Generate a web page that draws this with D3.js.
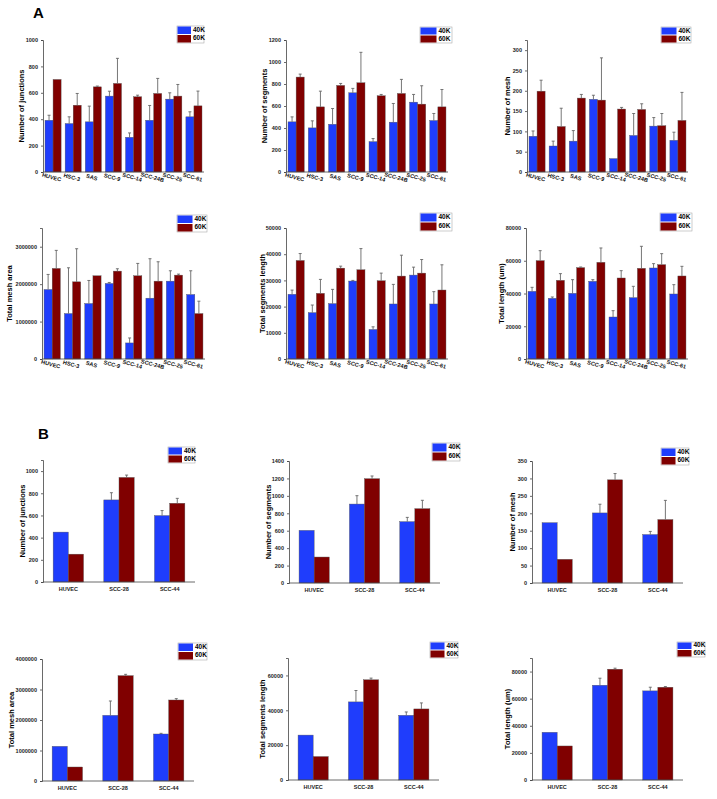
<!DOCTYPE html>
<html><head><meta charset="utf-8">
<script src="https://cdn.jsdelivr.net/npm/d3@7"></script>
<style>body{margin:0;background:#fff}svg{display:block}text{font-family:Arial,"Liberation Sans",sans-serif}</style>
</head><body><div id="c"></div>
<script>
const catsA = ["HUVEC","HSC-3","SAS","SCC-9","SCC-14","SCC-24B","SCC-25","SCC-61"];
const catsB = ["HUVEC","SCC-28","SCC-44"];
const seriesNames = ["40K","60K"];

const junctionsA40 = [392,367,380,575,263,392,552,418];
const junctionsA40Err = [38,51,119,37,33,112,48,38];
const junctionsA60 = [701,506,645,671,570,595,575,501];
const junctionsA60Err = [0,89,6,190,12,114,88,112];

const segmentsA40 = [456,401,434,720,276,453,635,468];
const segmentsA40Err = [45,64,143,40,28,170,70,64];
const segmentsA60 = [863,592,787,811,693,714,617,592];
const segmentsA60Err = [27,143,18,277,12,128,167,158];

const meshA40 = [88,64,76,179,33,90,113,78];
const meshA40Err = [13,12,26,10,0,54,21,20];
const meshA60 = [199,112,182,177,155,154,114,127];
const meshA60Err = [27,45,9,104,4,14,30,69];

const meshAreaA40 = [1857000,1214000,1482000,2018000,429000,1625000,2080000,1723000];
const meshAreaA40Err = [402000,1223000,616000,27000,133000,1054000,277000,634000];
const meshAreaA60 = [2420000,2062000,2223000,2348000,2223000,2080000,2241000,1214000];
const meshAreaA60Err = [482000,884000,0,63000,331000,518000,27000,331000];

const segLenA40 = [24700,17700,21140,29750,11270,21000,32030,21000];
const segLenA40Err = [1600,2900,5440,250,1010,7480,3030,4700];
const segLenA60 = [37600,25060,34680,34050,29870,31650,32780,26330];
const segLenA60Err = [2650,5320,760,8100,2910,7970,5190,9620];

const totLenA40 = [41330,37050,40110,47440,25650,37460,55580,39700];
const totLenA40Err = [2440,820,8340,1010,3870,6920,2650,5700];
const totLenA60 = [60060,48050,55790,59040,49470,55380,57620,50700];
const totLenA60Err = [6100,4070,400,8760,4480,13440,6720,5900];

const junctionsB40 = [450,740,599];   const junctionsB40Err = [0,65,45];
const junctionsB60 = [251,943,710];   const junctionsB60Err = [0,21,44];
const segmentsB40 = [604,906,704];    const segmentsB40Err = [0,96,49];
const segmentsB60 = [298,1197,853];   const segmentsB60Err = [0,31,96];
const meshB40 = [173,201,139];        const meshB40Err = [0,25,9];
const meshB60 = [68,296,182];         const meshB60Err = [0,18,55];
const meshAreaB40 = [1137000,2153000,1541000]; const meshAreaB40Err = [0,470000,22000];
const meshAreaB60 = [459000,3454000,2656000];  const meshAreaB60Err = [0,43000,44000];
const segLenB40 = [25770,44810,37120]; const segLenB40Err = [0,6540,1920];
const segLenB60 = [13460,57500,40770]; const segLenB60Err = [0,960,3460];
const totLenB40 = [35200,69920,65740]; const totLenB40Err = [0,5170,2700];
const totLenB60 = [25100,81740,68440]; const totLenB60Err = [0,740,490];

const ticksJunctionsA = [0,200,400,600,800,1000];
const ticksSegmentsA = [0,200,400,600,800,1000,1200];
const ticksMeshA = [0,50,100,150,200,250,300];
const ticksMeshAreaA = [0,1000000,2000000,3000000];
const ticksSegLenA = [0,10000,20000,30000,40000,50000];
const ticksTotLenA = [0,20000,40000,60000,80000];
const ticksJunctionsB = [0,200,400,600,800,1000];
const ticksSegmentsB = [0,200,400,600,800,1000,1200,1400];
const ticksMeshB = [0,50,100,150,200,250,300,350];
const ticksMeshAreaB = [0,1000000,2000000,3000000,4000000];
const ticksSegLenB = [0,20000,40000,60000];
const ticksTotLenB = [0,20000,40000,60000,80000];

const COL40 = "#1f3dfc", COL60 = "#800000";

const panels = [
 {x0:43,x1:204,y0:40,y1:172,ymax:1000,ticks:ticksJunctionsA,title:"Number of junctions",tx:22,cats:catsA,v:[junctionsA40,junctionsA60],e:[junctionsA40Err,junctionsA60Err],lg:[177,26,27,17],rot:true},
 {x0:286,x1:448,y0:40,y1:172,ymax:1200,ticks:ticksSegmentsA,title:"Number of segments",tx:265,cats:catsA,v:[segmentsA40,segmentsA60],e:[segmentsA40Err,segmentsA60Err],lg:[420,27,32,16],rot:true},
 {x0:527,x1:688,y0:40,y1:172,ymax:325,ticks:ticksMeshA,title:"Number of mesh",tx:508,cats:catsA,v:[meshA40,meshA60],e:[meshA40Err,meshA60Err],lg:[661,27,30,16],rot:true},
 {x0:42,x1:205,y0:228,y1:359,ymax:3500000,ticks:ticksMeshAreaA,title:"Total mesh area",tx:10,cats:catsA,v:[meshAreaA40,meshAreaA60],e:[meshAreaA40Err,meshAreaA60Err],lg:[177,215,30,17],rot:true},
 {x0:286,x1:448,y0:228,y1:359,ymax:50000,ticks:ticksSegLenA,title:"Total segments length",tx:263,cats:catsA,v:[segLenA40,segLenA60],e:[segLenA40Err,segLenA60Err],lg:[420,213,32,18],rot:true},
 {x0:526,x1:688,y0:228,y1:359,ymax:80000,ticks:ticksTotLenA,title:"Total length (um)",tx:502,cats:catsA,v:[totLenA40,totLenA60],e:[totLenA40Err,totLenA60Err],lg:[660,213,32,18],rot:true},
 {x0:43,x1:195,y0:460,y1:582,ymax:1100,ticks:ticksJunctionsB,title:"Number of junctions",tx:23,cats:catsB,v:[junctionsB40,junctionsB60],e:[junctionsB40Err,junctionsB60Err],lg:[168,447,27,16],rot:false},
 {x0:289,x1:440,y0:461,y1:583,ymax:1400,ticks:ticksSegmentsB,title:"Number of segments",tx:269,cats:catsB,v:[segmentsB40,segmentsB60],e:[segmentsB40Err,segmentsB60Err],lg:[432,443,28,18],rot:false},
 {x0:532,x1:683,y0:461,y1:583,ymax:350,ticks:ticksMeshB,title:"Number of mesh",tx:513,cats:catsB,v:[meshB40,meshB60],e:[meshB40Err,meshB60Err],lg:[661,448,28,17],rot:false},
 {x0:42,x1:194,y0:659,y1:781,ymax:4000000,ticks:ticksMeshAreaB,title:"Total mesh area",tx:12,cats:catsB,v:[meshAreaB40,meshAreaB60],e:[meshAreaB40Err,meshAreaB60Err],lg:[178,643,29,17],rot:false},
 {x0:288,x1:439,y0:658,y1:780,ymax:70000,ticks:ticksSegLenB,title:"Total segments length",tx:263,cats:catsB,v:[segLenB40,segLenB60],e:[segLenB40Err,segLenB60Err],lg:[430,642,28,16],rot:false},
 {x0:532,x1:683,y0:658,y1:780,ymax:90000,ticks:ticksTotLenB,title:"Total length (um)",tx:508,cats:catsB,v:[totLenB40,totLenB60],e:[totLenB40Err,totLenB60Err],lg:[677,642,28,15],rot:false}
];

const svg = d3.select("#c").append("svg").attr("width",717).attr("height",799);

svg.append("text").attr("x",33).attr("y",18).attr("font-size",15).attr("font-weight","bold").text("A");
svg.append("text").attr("x",38).attr("y",439).attr("font-size",15).attr("font-weight","bold").text("B");

panels.forEach(p => {
  const g = svg.append("g");
  const y = d3.scaleLinear().domain([0,p.ymax]).range([p.y1,p.y0]);
  const x = d3.scaleBand().domain(p.cats).range([p.x0,p.x1])
      .paddingInner(p.rot?0.2:0.4).paddingOuter(p.rot?0.1:0.2);
  const xs = d3.scaleBand().domain(seriesNames).range([0,x.bandwidth()]);
  const cols = [COL40,COL60];

  seriesNames.forEach((s,si) => {
    const data = p.cats.map((c,i)=>({c, v:p.v[si][i], e:p.e[si][i]}));
    g.selectAll(null).data(data).enter().append("rect")
      .attr("x",d=>x(d.c)+xs(s)).attr("y",d=>y(d.v))
      .attr("width",xs.bandwidth()).attr("height",d=>y(0)-y(d.v))
      .attr("fill",cols[si]).attr("stroke","#555").attr("stroke-width",0.4);
    const eb = data.filter(d=>d.e>0);
    g.selectAll(null).data(eb).enter().append("line")
      .attr("x1",d=>x(d.c)+xs(s)+xs.bandwidth()/2).attr("x2",d=>x(d.c)+xs(s)+xs.bandwidth()/2)
      .attr("y1",d=>y(d.v)).attr("y2",d=>y(d.v+d.e))
      .attr("stroke","#666").attr("stroke-width",0.9);
    g.selectAll(null).data(eb).enter().append("line")
      .attr("x1",d=>x(d.c)+xs(s)+xs.bandwidth()/2-1.5).attr("x2",d=>x(d.c)+xs(s)+xs.bandwidth()/2+1.5)
      .attr("y1",d=>y(d.v+d.e)).attr("y2",d=>y(d.v+d.e))
      .attr("stroke","#666").attr("stroke-width",0.9);
  });

  const ya = d3.axisLeft(y).tickValues(p.ticks).tickFormat(d3.format("d")).tickSize(2).tickPadding(3);
  const yg = g.append("g").attr("transform",`translate(${p.x0},0)`).call(ya);
  yg.select(".domain").attr("stroke","#444").attr("stroke-width",0.8);
  yg.selectAll(".tick line").attr("stroke","#444").attr("stroke-width",0.8);
  yg.selectAll(".tick text").attr("font-size",5.5).attr("font-weight","bold").attr("fill","#222");

  const xa = d3.axisBottom(x).tickSize(0).tickPadding(4);
  const xg = g.append("g").attr("transform",`translate(0,${p.y1})`).call(xa);
  xg.select(".domain").attr("stroke","#444").attr("stroke-width",0.8).attr("d",`M${p.x0},0H${p.x1}`);
  if (p.rot) {
    xg.selectAll(".tick text").attr("font-size",5.6).attr("font-weight","bold").attr("fill","#111")
      .attr("text-anchor","middle").attr("dy","0.6em").attr("transform","translate(0,0) rotate(15)");
  } else {
    xg.selectAll(".tick text").attr("font-size",5.5).attr("font-weight","bold").attr("fill","#222").attr("dy","0.9em");
  }

  g.append("text").attr("transform",`translate(${p.tx},${(p.y0+p.y1)/2}) rotate(-90)`)
    .attr("text-anchor","middle").attr("dominant-baseline","middle")
    .attr("font-size",7.5).attr("font-weight","bold").text(p.title);

  const [lx,ly,lw,lh] = p.lg;
  const lgG = g.append("g");
  lgG.append("rect").attr("x",lx).attr("y",ly).attr("width",lw).attr("height",lh)
    .attr("fill","#fff").attr("stroke","#aaa").attr("stroke-width",0.6);
  seriesNames.forEach((s,si)=>{
    lgG.append("rect").attr("x",lx+0.5).attr("y",ly+0.5+si*lh/2).attr("width",lw*0.5).attr("height",lh/2-1)
      .attr("fill",cols[si]);
    lgG.append("text").attr("x",lx+lw*0.5+2.5).attr("y",ly+lh/4+si*lh/2).attr("dominant-baseline","middle")
      .attr("font-size",6.5).attr("font-weight","bold").text(s);
  });
});
</script></body></html>
